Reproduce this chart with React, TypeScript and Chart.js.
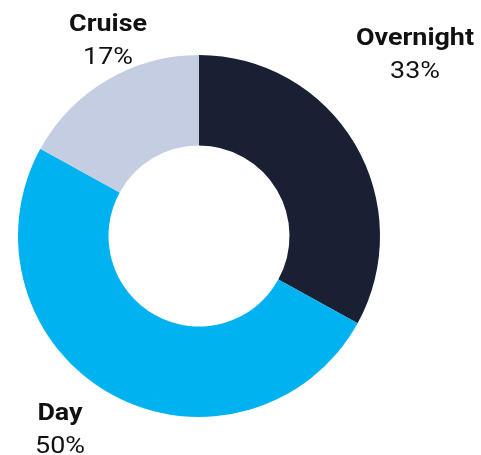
import React, { useEffect, useRef } from "react";
import { Chart, registerables } from "chart.js";

Chart.register(...registerables);

const categories = ["Overnight", "Day", "Cruise"];
const shares = [33, 50, 17];
const colors = ["#1a2033", "#00b2f0", "#c4cde2"];

type LabelPos = { x: number; y: number; align: CanvasTextAlign };
const labelPositions: LabelPos[] = [
  { x: 415, y: 39, align: "center" },
  { x: 60, y: 414, align: "center" },
  { x: 108, y: 25, align: "center" },
];

const labelPlugin = {
  id: "outerLabels",
  afterDraw(chart: any) {
    const ctx = chart.ctx as CanvasRenderingContext2D;
    ctx.save();
    ctx.fillStyle = "#111111";
    ctx.textBaseline = "middle";
    categories.forEach((name, i) => {
      const p = labelPositions[i];
      ctx.save();
      ctx.translate(p.x, p.y);
      ctx.scale(1.12, 1);
      ctx.textAlign = p.align;
      ctx.font = "bold 24px Roboto";
      ctx.fillText(name, 0, 0);
      ctx.font = "24px Roboto";
      ctx.fillText(shares[i] + "%", 0, 33);
      ctx.restore();
    });
    ctx.restore();
  },
};

export default function App() {
  const ref = useRef<HTMLCanvasElement>(null);
  useEffect(() => {
    if (!ref.current) return;
    const chart = new Chart(ref.current, {
      type: "doughnut",
      data: {
        labels: categories,
        datasets: [
          {
            data: shares,
            backgroundColor: colors,
            borderWidth: 0,
          },
        ],
      },
      options: {
        responsive: false,
        animation: false,
        cutout: "50%",
        layout: { padding: { left: 18, right: 101, top: 55, bottom: 38 } },
        plugins: {
          legend: { display: false },
          tooltip: { enabled: false },
        },
      },
      plugins: [labelPlugin],
    });
    return () => chart.destroy();
  }, []);
  return (
    <div style={{ position: "absolute", left: 0, top: 0, width: 481, height: 455, background: "#fff" }}>
      <canvas ref={ref} width={481} height={455} style={{ display: "block" }} />
    </div>
  );
}
